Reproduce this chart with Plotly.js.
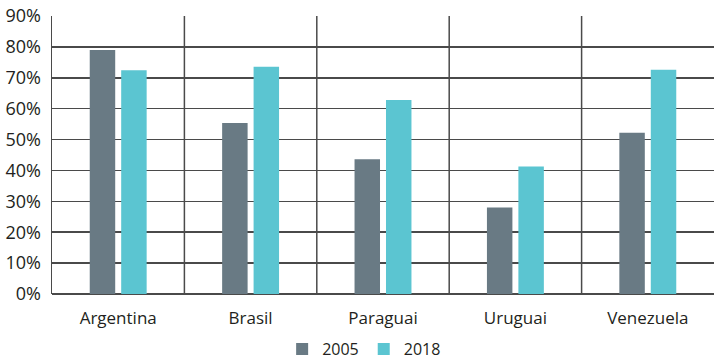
<!DOCTYPE html>
<html>
<head>
<meta charset="utf-8">
<script src="https://cdn.plot.ly/plotly-3.0.1.min.js"></script>
<style>
  html, body { margin: 0; padding: 0; background: #fff; overflow: hidden; }
  #chart { width: 714px; height: 360px; }
</style>
</head>
<body>
<div id="chart"></div>
<script>
// Countries on the category axis
const countries = ['Argentina', 'Brasil', 'Paraguai', 'Uruguai', 'Venezuela'];
// Share per country, in percent
const values2005 = [79.0, 55.4, 43.6, 28.0, 52.2];
const values2018 = [72.4, 73.6, 62.8, 41.3, 72.6];
// Y axis ticks
const yTickVals = [0, 10, 20, 30, 40, 50, 60, 70, 80, 90];
const yTickText = yTickVals.map(v => v + '%');

const gridColor = '#4a4a4a';
const fontFamily = '"Open Sans", "Noto Sans", sans-serif';

const traces = [
  {
    type: 'bar', name: '2005', x: countries, y: values2005,
    marker: { color: '#697a84' }, hoverinfo: 'skip'
  },
  {
    type: 'bar', name: '2018', x: countries, y: values2018,
    marker: { color: '#5bc5d1' }, hoverinfo: 'skip'
  }
];

// Vertical separators between the country groups
const separators = [];
for (let i = 0; i < countries.length - 1; i++) {
  separators.push({
    type: 'line', xref: 'x', yref: 'paper',
    x0: i + 0.5, x1: i + 0.5, y0: 0, y1: 1,
    line: { color: gridColor, width: 1.5 }, layer: 'below'
  });
}

const layout = {
  width: 714, height: 360,
  margin: { l: 52, r: 0, t: 16, b: 66, autoexpand: false },
  paper_bgcolor: '#ffffff', plot_bgcolor: '#ffffff',
  font: { family: fontFamily, size: 16, color: '#231f20' },
  barmode: 'group',
  bargap: 0.525,
  bargroupgap: 0.19,
  showlegend: true,
  legend: {
    orientation: 'h',
    xref: 'container', yref: 'paper',
    x: 0.51, xanchor: 'center', y: -0.198, yanchor: 'middle',
    font: { size: 16, color: '#231f20' },
    itemwidth: 30, tracegroupgap: 0
  },
  xaxis: {
    range: [-0.5, 4.5],
    showgrid: false, zeroline: false,
    showline: false, ticks: '',
    ticklabelstandoff: 12,
    tickfont: { size: 17 },
    fixedrange: true
  },
  yaxis: {
    range: [0, 90],
    tickvals: yTickVals, ticktext: yTickText,
    showgrid: true, gridcolor: gridColor, gridwidth: 1.5,
    zeroline: true, zerolinecolor: gridColor, zerolinewidth: 1.5,
    showline: true, linecolor: gridColor, linewidth: 1.5,
    ticks: '', ticklabelstandoff: 6,
    tickfont: { size: 18 },
    fixedrange: true
  },
  shapes: separators
};

Plotly.newPlot('chart', traces, layout, { displayModeBar: false, staticPlot: true });
</script>
</body>
</html>
